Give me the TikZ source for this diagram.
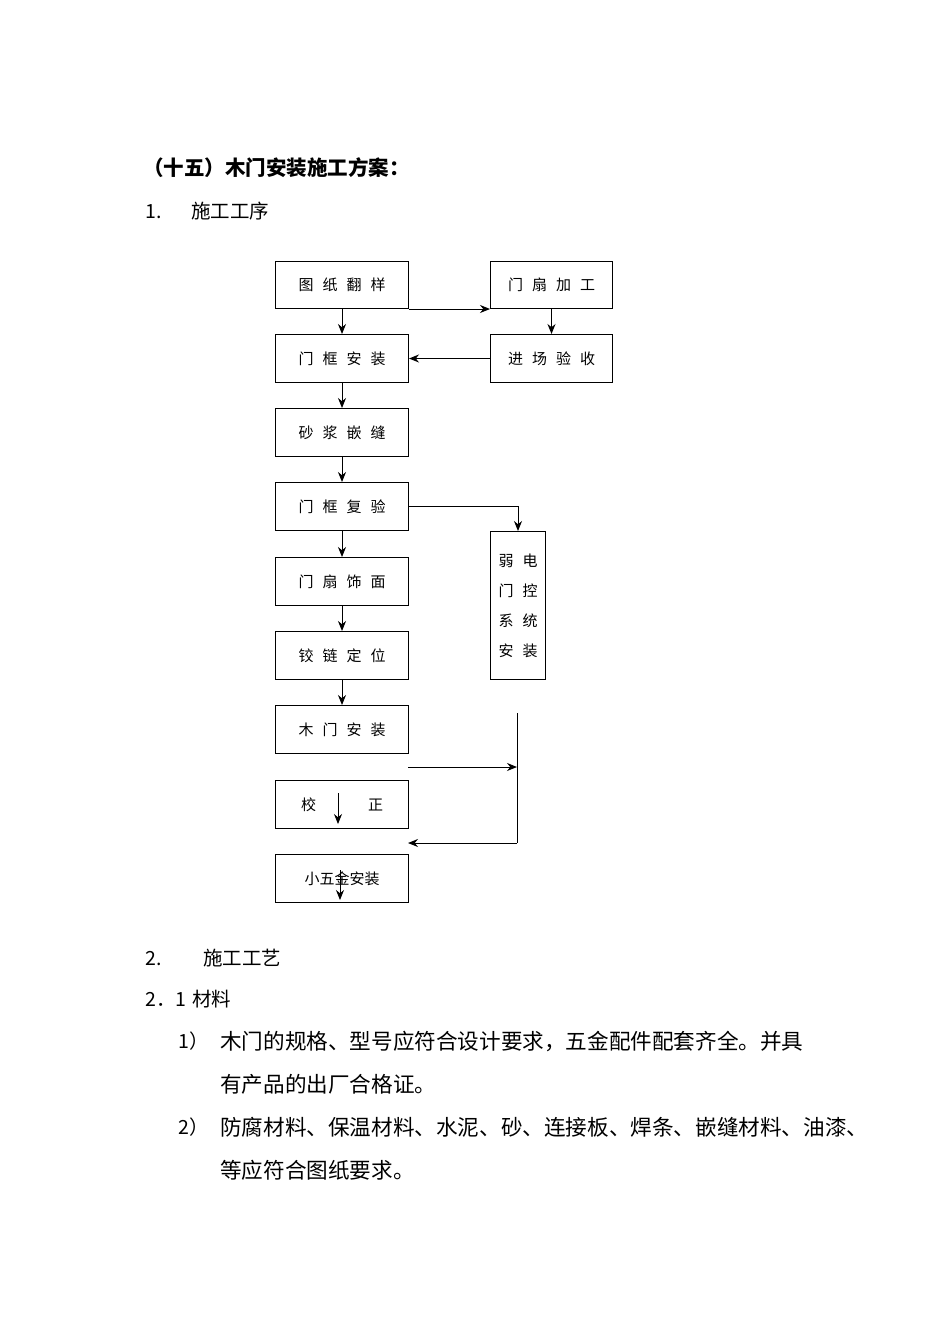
\documentclass[tikz,border=0pt]{standalone}
\usepackage{fontspec}
\newfontfamily\cjk{Noto Sans CJK SC}
\usetikzlibrary{arrows.meta}
\begin{document}
\begin{tikzpicture}[x=1pt,y=-1pt,
  box/.style={draw,line width=1pt,anchor=north west,font=\cjk\fontsize{15}{18}\selectfont},
  ar/.style={-{Stealth[length=10pt,width=8pt]},line width=1pt},
  txt/.style={anchor=west,font=\cjk\fontsize{19.5}{23}\selectfont,inner sep=0},
  ptxt/.style={anchor=west,font=\cjk\fontsize{21.6}{25}\selectfont,inner sep=0}]
\useasboundingbox (0,0) rectangle (950,1344);
\def\s{\hspace{9pt}}
\def\bx#1#2#3#4#5#6{\node[box,minimum width=#4pt,minimum height=#5pt] (#1) at (#2,#3) {#6};}
\bx{a}{275}{261}{133}{47}{图\s 纸\s 翻\s 样}
\bx{b}{275}{334}{133}{48}{门\s 框\s 安\s 装}
\bx{c}{275}{408}{133}{48}{砂\s 浆\s 嵌\s 缝}
\bx{d}{275}{482}{133}{48}{门\s 框\s 复\s 验}
\bx{e}{275}{557}{133}{48}{门\s 扇\s 饰\s 面}
\bx{f}{275}{631}{133}{48}{铰\s 链\s 定\s 位}
\bx{g}{275}{705}{133}{48}{木\s 门\s 安\s 装}
\bx{h}{275}{780}{133}{48}{校\hspace{52pt}正}
\bx{i}{275}{854}{133}{48}{小五金安装}
\bx{p}{490}{261}{122}{47}{门\s 扇\s 加\s 工}
\bx{q}{490}{334}{122}{48}{进\s 场\s 验\s 收}
\node[box,minimum width=55pt,minimum height=148pt,align=center,font=\cjk\fontsize{15}{30}\selectfont] (r) at (490,531) {弱\s 电\\门\s 控\\系\s 统\\安\s 装};
\foreach \u/\v in {a/b,b/c,c/d,d/e,e/f,f/g} \draw[ar] (\u.south) -- (\v.north);
\draw[ar] (a.south east) -- (p.south west);
\draw[ar] (p.south) -- (q.north);
\draw[ar] (q.west) -- (b.east);
\draw[ar] (d.east) -| (r.north);
\coordinate (t) at (517,713); \coordinate (m) at (517,767); \coordinate (n) at (517,843);
\coordinate (l1) at (408,767); \coordinate (l2) at (408,843);
\draw[line width=1pt] (t) -- (n);
\draw[ar] (l1) -- (m);
\draw[ar] (n) -- (l2);
\coordinate (h1) at (338,793); \coordinate (h2) at (338,824);
\draw[ar] (h1) -- (h2);
\coordinate (i1) at (340,870); \coordinate (i2) at (340,900);
\draw[ar] (i1) -- (i2);
\node[txt,font=\cjk\bfseries\fontsize{20.5}{23}\selectfont] (t0) at (143,168) {（十五）木门安装施工方案：};
\node[txt] (t1) at (145,211) {1.\hspace{30pt}施工工序};
\node[txt] (t2) at (145,958) {2.\hspace{42pt}施工工艺};
\node[txt] (t3) at (145,999) {2．1\hspace{6pt}材料};
\node[txt] (n1) at (178,1041) {1）};
\node[ptxt] (t4) at (220,1041) {木门的规格、型号应符合设计要求，五金配件配套齐全。并具};
\node[ptxt] (t5) at (220,1084) {有产品的出厂合格证。};
\node[txt] (n2) at (178,1127) {2）};
\node[ptxt] (t6) at (220,1127) {防腐材料、保温材料、水泥、砂、连接板、焊条、嵌缝材料、油漆、};
\node[ptxt] (t7) at (220,1170) {等应符合图纸要求。};
\end{tikzpicture}
\end{document}
